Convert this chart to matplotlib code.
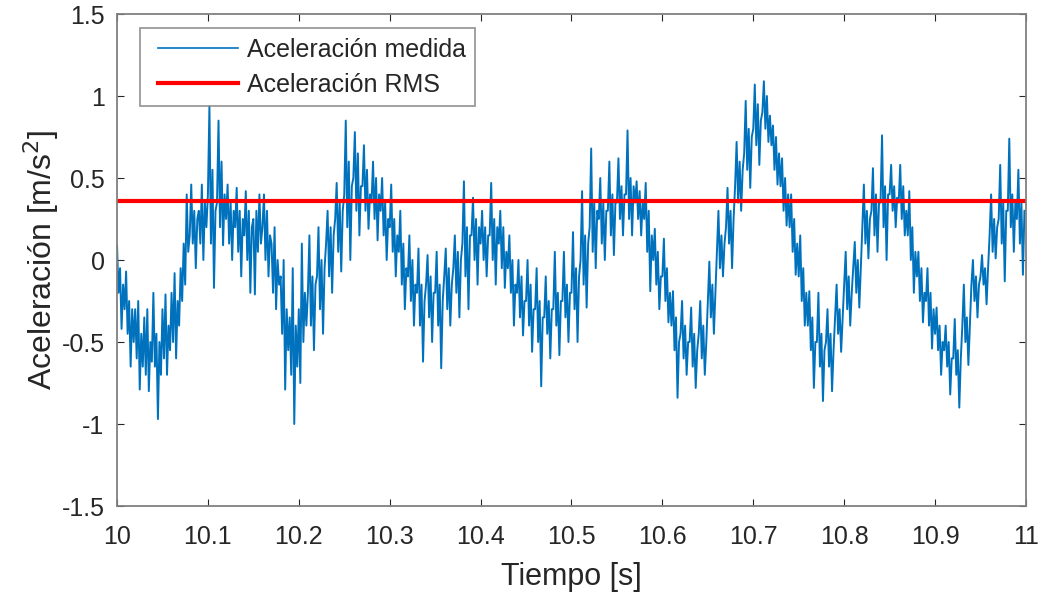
import numpy as np
import matplotlib
matplotlib.use("Agg")
import matplotlib.pyplot as plt
from matplotlib.legend_handler import HandlerLine2D

plt.rcParams['font.family'] = ['Liberation Sans', 'DejaVu Sans']

# ---- data ----
t_start = 10.0
t_end = 11.0
rms_value = 0.36

accel = [
    0.09, -0.20, -0.05, -0.42, -0.15, -0.30,
    -0.07, -0.45, -0.25, -0.65, -0.30, -0.50,
    -0.30, -0.60, -0.25, -0.79, -0.45, -0.65,
    -0.35, -0.70, -0.30, -0.80, -0.50, -0.62,
    -0.20, -0.65, -0.45, -0.97, -0.50, -0.70,
    -0.30, -0.60, -0.21, -0.70, -0.40, -0.55,
    -0.20, -0.50, -0.08, -0.60, -0.25, -0.40,
    -0.05, -0.25, 0.10, -0.15, 0.40, 0.05,
    0.15, 0.46, 0.10, 0.30, -0.05, 0.25,
    0.30, 0.10, 0.46, 0.00, 0.35, 0.20,
    0.40, 0.94, 0.10, 0.55, -0.17, 0.30,
    0.35, 0.85, 0.20, 0.60, 0.09, 0.40,
    0.25, 0.46, 0.10, 0.35, 0.00, 0.30,
    0.20, 0.44, 0.05, 0.30, -0.10, 0.25,
    0.15, 0.42, 0.00, 0.30, -0.20, 0.20,
    0.25, -0.21, 0.30, 0.05, 0.40, 0.10,
    0.20, 0.40, 0.00, 0.30, -0.10, 0.15,
    0.10, -0.20, 0.20, -0.30, 0.00, -0.15,
    -0.10, -0.45, 0.00, -0.79, -0.30, -0.55,
    -0.35, -0.70, -0.05, -1.00, -0.40, -0.65,
    -0.30, -0.75, 0.10, -0.50, -0.20, -0.40,
    -0.20, 0.15, -0.40, -0.10, -0.55, -0.15,
    -0.10, 0.20, -0.30, 0.00, -0.45, -0.05,
    0.10, 0.30, -0.10, 0.20, -0.20, 0.15,
    0.25, 0.47, 0.05, 0.35, -0.07, 0.30,
    0.40, 0.85, 0.20, 0.60, 0.00, 0.45,
    0.50, 0.78, 0.30, 0.65, 0.15, 0.45,
    0.45, 0.70, 0.30, 0.55, 0.19, 0.40,
    0.35, 0.60, 0.25, 0.50, 0.12, 0.40,
    0.30, 0.50, 0.15, 0.35, 0.00, 0.25,
    0.20, 0.46, 0.05, 0.25, -0.10, 0.15,
    0.05, 0.30, -0.15, 0.10, -0.30, -0.05,
    -0.10, 0.15, -0.25, 0.00, -0.40, -0.15,
    -0.20, 0.07, -0.40, -0.15, -0.62, -0.25,
    -0.15, 0.03, -0.35, -0.10, -0.50, -0.20,
    -0.20, 0.05, -0.40, -0.15, -0.66, -0.25,
    -0.10, 0.07, -0.30, -0.05, -0.40, -0.15,
    -0.05, 0.15, -0.20, 0.05, -0.35, 0.00,
    0.10, 0.48, -0.10, 0.20, -0.30, 0.15,
    0.15, 0.38, 0.00, 0.25, -0.15, 0.20,
    0.10, 0.30, 0.00, 0.20, -0.10, 0.15,
    0.15, 0.47, 0.00, 0.25, -0.15, 0.20,
    0.10, 0.30, -0.05, 0.20, -0.17, 0.05,
    -0.05, 0.15, -0.20, 0.00, -0.40, -0.15,
    -0.20, 0.00, -0.35, -0.10, -0.46, -0.25,
    -0.25, 0.00, -0.40, -0.15, -0.56, -0.30,
    -0.30, -0.05, -0.50, -0.25, -0.77, -0.35,
    -0.35, -0.10, -0.45, -0.25, -0.60, -0.30,
    -0.30, 0.05, -0.40, -0.20, -0.58, -0.25,
    -0.25, 0.05, -0.35, -0.15, -0.50, -0.20,
    -0.20, 0.17, -0.30, -0.05, -0.50, -0.10,
    0.00, 0.42, -0.15, 0.15, -0.29, 0.10,
    0.20, 0.68, 0.05, 0.35, -0.05, 0.30,
    0.25, 0.50, 0.10, 0.35, 0.00, 0.30,
    0.30, 0.60, 0.15, 0.40, 0.03, 0.35,
    0.35, 0.62, 0.25, 0.45, 0.15, 0.40,
    0.40, 0.79, 0.25, 0.50, 0.15, 0.45,
    0.35, 0.48, 0.25, 0.42, 0.15, 0.35,
    0.25, 0.47, 0.05, 0.30, -0.19, 0.15,
    0.00, 0.19, -0.15, 0.05, -0.30, -0.10,
    -0.10, 0.13, -0.25, -0.05, -0.38, -0.20,
    -0.40, -0.19, -0.55, -0.35, -0.84, -0.50,
    -0.45, -0.25, -0.60, -0.40, -0.70, -0.50,
    -0.50, -0.29, -0.65, -0.45, -0.78, -0.55,
    -0.45, -0.25, -0.60, -0.40, -0.70, -0.50,
    -0.25, -0.01, -0.35, -0.15, -0.45, -0.20,
    0.05, 0.30, -0.05, 0.15, -0.10, 0.10,
    0.20, 0.44, 0.10, 0.30, -0.05, 0.25,
    0.45, 0.72, 0.35, 0.60, 0.30, 0.55,
    0.65, 0.97, 0.55, 0.80, 0.44, 0.75,
    0.80, 1.07, 0.70, 0.95, 0.58, 0.85,
    0.90, 1.09, 0.80, 1.00, 0.72, 0.88,
    0.70, 0.82, 0.55, 0.75, 0.46, 0.65,
    0.45, 0.62, 0.30, 0.50, 0.21, 0.40,
    0.20, 0.40, 0.05, 0.25, -0.09, 0.10,
    -0.10, 0.15, -0.25, -0.05, -0.40, -0.20,
    -0.40, -0.19, -0.55, -0.35, -0.78, -0.50,
    -0.50, -0.20, -0.65, -0.45, -0.86, -0.55,
    -0.50, -0.30, -0.65, -0.45, -0.80, -0.55,
    -0.35, -0.15, -0.45, -0.30, -0.56, -0.35,
    -0.15, 0.05, -0.30, -0.10, -0.40, -0.20,
    -0.05, 0.11, -0.20, 0.00, -0.29, -0.05,
    0.20, 0.46, 0.10, 0.30, 0.01, 0.25,
    0.30, 0.56, 0.15, 0.40, 0.05, 0.35,
    0.35, 0.76, 0.20, 0.45, 0.00, 0.40,
    0.40, 0.58, 0.30, 0.45, 0.20, 0.38,
    0.35, 0.58, 0.25, 0.45, 0.15, 0.30,
    0.15, 0.42, 0.00, 0.20, -0.20, 0.05,
    -0.10, 0.05, -0.25, -0.05, -0.38, -0.20,
    -0.25, -0.05, -0.40, -0.20, -0.54, -0.30,
    -0.45, -0.29, -0.55, -0.40, -0.70, -0.50,
    -0.55, -0.40, -0.65, -0.50, -0.82, -0.60,
    -0.60, -0.36, -0.70, -0.55, -0.90, -0.60,
    -0.40, -0.15, -0.50, -0.35, -0.64, -0.40,
    -0.15, 0.00, -0.25, -0.10, -0.35, -0.15,
    -0.10, 0.03, -0.15, -0.05, -0.27, -0.05,
    0.15, 0.40, 0.05, 0.25, 0.01, 0.20,
    0.25, 0.58, 0.10, 0.35, -0.13, 0.30,
    0.30, 0.74, 0.20, 0.40, 0.05, 0.35,
    0.25, 0.55, 0.10, 0.35, -0.09, 0.30,
]

x_ticks = [10, 10.1, 10.2, 10.3, 10.4, 10.5, 10.6, 10.7, 10.8, 10.9, 11]
x_tick_labels = ['10', '10.1', '10.2', '10.3', '10.4', '10.5', '10.6', '10.7', '10.8', '10.9', '11']
y_ticks = [-1.5, -1, -0.5, 0, 0.5, 1, 1.5]
y_tick_labels = ['-1.5', '-1', '-0.5', '0', '0.5', '1', '1.5']

# sample clock of the recording
n = len(accel)
t = t_start + (t_end - t_start) * np.arange(n) / n


class InsetLine(HandlerLine2D):
    """Legend line that starts a little inside the handle box (MATLAB look)."""
    def create_artists(self, legend, orig_handle, xdescent, ydescent,
                       width, height, fontsize, trans):
        inset = 0.33 * fontsize
        return super().create_artists(legend, orig_handle, xdescent - inset,
                                      ydescent, width - inset, height,
                                      fontsize, trans)


fig = plt.figure(figsize=(10.42, 5.96), dpi=100)
ax = fig.add_axes([0.1123, 0.151, 0.8723, 0.8255])

blue = '#0072BD'
ln_meas, = ax.plot(t, accel, color=blue, lw=1.4, label='Aceleración medida')
ln_rms = ax.axhline(rms_value, color='#FF0000', lw=3.0, label='Aceleración RMS')

ax.set_xlim(t_start, t_end)
ax.set_ylim(-1.5, 1.5)
ax.set_xticks(x_ticks)
ax.set_xticklabels(x_tick_labels)
ax.set_yticks(y_ticks)
ax.set_yticklabels(y_tick_labels)

spine_col = '#808080'
for s in ax.spines.values():
    s.set_color(spine_col)
    s.set_linewidth(1.3)
ax.tick_params(direction='in', top=True, right=True, length=5, width=0.8,
               color='#262626', labelsize=18, labelcolor='#262626')
ax.tick_params(axis='x', pad=14)
ax.tick_params(axis='y', pad=9)

ax.set_xlabel('Tiempo [s]', fontsize=22, color='#262626', labelpad=9)
ax.set_ylabel('Aceleración [m/s$^2$]', fontsize=23, color='#262626', labelpad=0)

leg = ax.legend(handles=[ln_meas, ln_rms], loc='upper left',
                bbox_to_anchor=(0.0253, 0.9715), fontsize=18,
                frameon=True, fancybox=False, edgecolor='#808080',
                handlelength=3.52, borderpad=0.38, labelspacing=0.45,
                handletextpad=0.36, borderaxespad=0.0,
                handler_map={ln_meas: InsetLine(), ln_rms: InsetLine()})
leg.get_frame().set_linewidth(1.3)
for txt in leg.get_texts():
    txt.set_color('#262626')
leg.get_lines()[0].set_linewidth(1.2)

fig.savefig('out.png', dpi=100)
